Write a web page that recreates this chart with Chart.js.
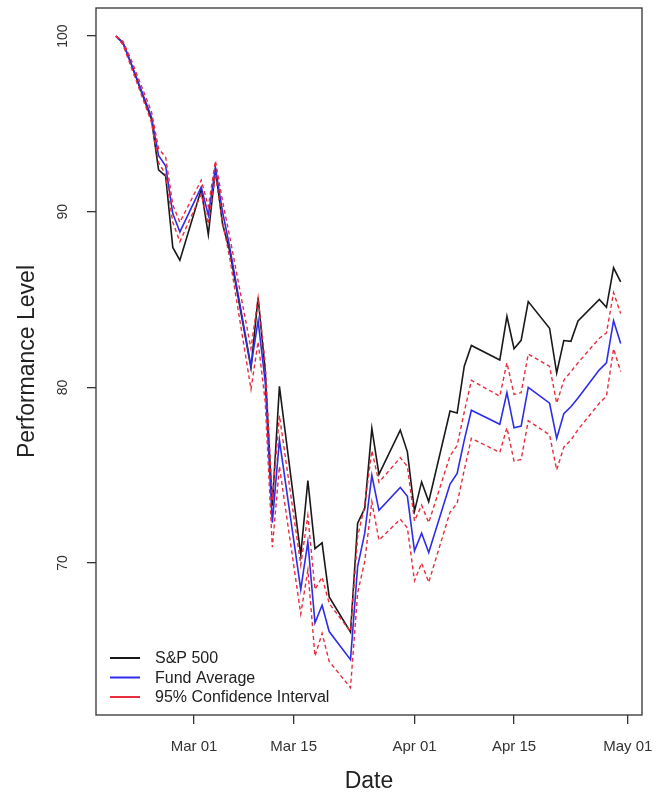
<!DOCTYPE html>
<html>
<head>
<meta charset="utf-8">
<script src="https://cdn.jsdelivr.net/npm/chart.js@4.4.0/dist/chart.umd.min.js"></script>
<style>
  body { margin: 0; background: #fff; }
</style>
</head>
<body>
<canvas id="myChart" width="663" height="795"></canvas>
<script>
// trading days, 2020
let dates = [
  '2020-02-19','2020-02-20','2020-02-21','2020-02-24','2020-02-25','2020-02-26','2020-02-27','2020-02-28',
  '2020-03-02','2020-03-03','2020-03-04','2020-03-05','2020-03-06','2020-03-09','2020-03-10','2020-03-11',
  '2020-03-12','2020-03-13','2020-03-16','2020-03-17','2020-03-18','2020-03-19','2020-03-20','2020-03-23',
  '2020-03-24','2020-03-25','2020-03-26','2020-03-27','2020-03-30','2020-03-31','2020-04-01','2020-04-02',
  '2020-04-03','2020-04-06','2020-04-07','2020-04-08','2020-04-09','2020-04-13','2020-04-14','2020-04-15',
  '2020-04-16','2020-04-17','2020-04-20','2020-04-21','2020-04-22','2020-04-23','2020-04-24','2020-04-27',
  '2020-04-28','2020-04-29','2020-04-30'
];

let sp500 = [
  100, 99.62, 98.57, 95.27, 92.38, 92.03, 87.97, 87.24,
  91.26, 88.70, 92.44, 89.30, 87.78, 81.11, 85.12, 80.96,
  73.26, 80.06, 70.47, 74.69, 70.82, 71.15, 68.07, 66.07,
  72.27, 73.11, 77.67, 75.05, 77.57, 76.33, 72.96, 74.62,
  73.50, 78.66, 78.54, 81.21, 82.39, 81.56, 84.05, 82.20,
  82.68, 84.89, 83.37, 80.82, 82.67, 82.62, 83.78, 85.01,
  84.56, 86.81, 86.01
];

let fundAverage = [
  100, 99.6, 98.6, 95.4, 93.2, 92.6, 89.9, 88.85,
  91.4, 89.8, 92.5, 90.0, 88.0, 81.2, 83.8, 80.3,
  72.3, 77.0, 68.5, 71.2, 66.6, 67.6, 66.1, 64.5,
  69.8, 71.7, 75.0, 73.0, 74.3, 73.8, 70.7, 71.7,
  70.6, 74.5, 75.1, 77.0, 78.7, 77.9, 79.7, 77.7,
  77.8, 80.0, 79.1, 77.1, 78.5, 78.9, 79.4, 81.0,
  81.4, 83.8, 82.5
];

let ciUpper = [
  100, 99.7, 98.8, 95.7, 93.6, 93.1, 90.4, 89.4,
  91.8, 90.3, 92.9, 90.6, 88.6, 82.2, 85.1, 81.4,
  73.6, 78.4, 69.9, 72.7, 68.5, 69.2, 67.7, 66.1,
  71.5, 73.3, 76.4, 74.6, 76.0, 75.5, 72.4, 73.3,
  72.3, 76.1, 76.7, 78.6, 80.4, 79.5, 81.4, 79.6,
  79.7, 81.9, 81.2, 79.1, 80.4, 80.9, 81.4, 82.8,
  83.1, 85.4, 84.2
];

let ciLower = [
  100, 99.5, 98.4, 95.1, 92.8, 92.1, 89.4, 88.3,
  91.0, 89.3, 92.1, 89.4, 87.4, 79.9, 82.6, 79.2,
  70.9, 75.5, 67.1, 69.6, 64.7, 66.0, 64.4, 62.9,
  68.3, 70.1, 73.5, 71.3, 72.5, 72.0, 69.0, 70.0,
  68.9, 72.9, 73.4, 75.3, 77.1, 76.3, 77.7, 75.8,
  75.9, 78.1, 77.3, 75.3, 76.6, 77.0, 77.6, 79.1,
  79.5, 82.2, 80.9
];

let xTickDates = ['2020-03-01', '2020-03-15', '2020-04-01', '2020-04-15', '2020-05-01'];
let xTickLabels = ['Mar 01', 'Mar 15', 'Apr 01', 'Apr 15', 'May 01'];
let yTicks = [70, 80, 90, 100];

let legendLabels = ['S&P 500', 'Fund Average', '95% Confidence Interval'];
let lineColors = ['rgb(25,25,25)', 'rgb(45,45,235)', 'rgb(232,45,60)'];

const FONT = '"Liberation Sans", Arial, Helvetica, sans-serif';

// days since Mar 01 2020
function dayNum(s) {
  return (Date.parse(s + 'T00:00:00Z') - Date.parse('2020-03-01T00:00:00Z')) / 86400000;
}

function toPoints(values) {
  return values.map((v, i) => ({ x: dayNum(dates[i]), y: v }));
}

// box, rotated y labels, legend (R style)
const rStyle = {
  id: 'rStyle',
  afterDraw(chart) {
    const { ctx, chartArea: a, scales } = chart;
    ctx.save();
    ctx.strokeStyle = '#333';
    ctx.lineWidth = 1.3;
    ctx.strokeRect(a.left, a.top, a.right - a.left, a.bottom - a.top);

    ctx.fillStyle = '#333';
    ctx.font = '14px ' + FONT;
    ctx.textAlign = 'center';
    ctx.textBaseline = 'middle';
    yTicks.forEach(v => {
      const y = scales.y.getPixelForValue(v);
      ctx.save();
      ctx.translate(scales.y.right - 33, y);
      ctx.rotate(-Math.PI / 2);
      ctx.fillText(String(v), 0, 0);
      ctx.restore();
    });

    ctx.font = '16px ' + FONT;
    ctx.textAlign = 'left';
    ctx.fillStyle = '#222';
    ctx.lineWidth = 2;
    legendLabels.forEach((label, i) => {
      const y = a.bottom - 57 + i * 19.5;
      ctx.strokeStyle = lineColors[i];
      ctx.beginPath();
      ctx.moveTo(a.left + 14, y);
      ctx.lineTo(a.left + 44, y);
      ctx.stroke();
      ctx.fillText(label, a.left + 59, y + 1);
    });
    ctx.restore();
  }
};

let ctx = document.getElementById('myChart').getContext('2d');
let myChart = new Chart(ctx, {
  type: 'line',
  data: {
    datasets: [
      { label: 'Upper', data: toPoints(ciUpper), borderColor: lineColors[2], borderWidth: 1.4, borderDash: [4, 3] },
      { label: 'Lower', data: toPoints(ciLower), borderColor: lineColors[2], borderWidth: 1.4, borderDash: [4, 3] },
      { label: legendLabels[1], data: toPoints(fundAverage), borderColor: lineColors[1], borderWidth: 1.6 },
      { label: legendLabels[0], data: toPoints(sp500), borderColor: lineColors[0], borderWidth: 1.6 }
    ]
  },
  options: {
    responsive: false,
    animation: false,
    devicePixelRatio: 1,
    elements: { point: { radius: 0 }, line: { tension: 0, fill: false } },
    layout: { padding: { left: 0, top: 8, right: 21, bottom: 0 } },
    plugins: { legend: { display: false }, tooltip: { enabled: false } },
    scales: {
      x: {
        type: 'linear',
        min: -13.8,
        max: 63.0,
        afterBuildTicks: scale => { scale.ticks = xTickDates.map(d => ({ value: dayNum(d) })); },
        afterFit: scale => {
          scale.height = 80;
          scale.paddingLeft = 0;
          scale.paddingRight = 0;
        },
        ticks: {
          autoSkip: false,
          maxRotation: 0,
          padding: 14,
          color: '#333',
          font: { family: FONT, size: 15 },
          callback: (value, index) => xTickLabels[index]
        },
        grid: { drawOnChartArea: false, drawTicks: true, tickLength: 9, color: '#333', lineWidth: 1.3 },
        border: { display: false },
        title: { display: true, text: 'Date', color: '#222', font: { family: FONT, size: 23 }, padding: { bottom: 0 } }
      },
      y: {
        min: 61.35,
        max: 101.6,
        afterBuildTicks: scale => { scale.ticks = yTicks.map(v => ({ value: v })); },
        afterFit: scale => { scale.width = 96; },
        ticks: { display: false },
        grid: { drawOnChartArea: false, drawTicks: true, tickLength: 9, color: '#333', lineWidth: 1.3 },
        border: { display: false },
        title: { display: true, text: 'Performance Level', color: '#222', font: { family: FONT, size: 23 }, padding: { top: 14 } }
      }
    }
  },
  plugins: [rStyle]
});
</script>
</body>
</html>
